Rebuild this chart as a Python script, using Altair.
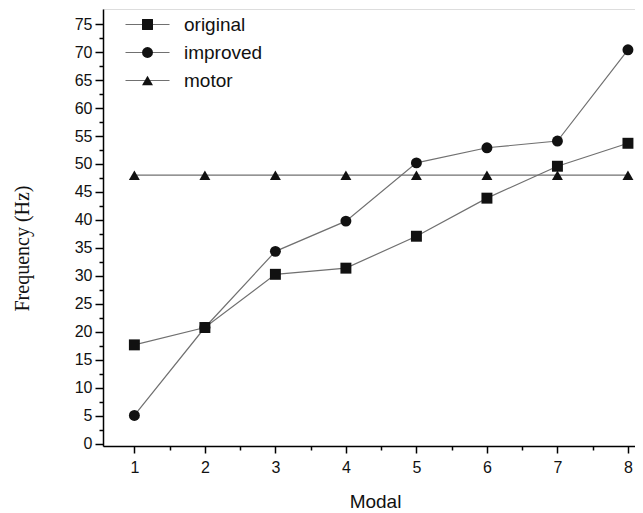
import altair as alt
import pandas as pd

modal = [1, 2, 3, 4, 5, 6, 7, 8]
original = [17.7, 20.8, 30.3, 31.4, 37.1, 43.9, 49.6, 53.7]
improved = [5.1, 20.8, 34.4, 39.8, 50.2, 52.9, 54.1, 70.4]
motor = [48.0, 48.0, 48.0, 48.0, 48.0, 48.0, 48.0, 48.0]
series_names = ["original", "improved", "motor"]
line_keys = ["line-original", "line-improved", "line-motor"]
shapes = ["square", "circle", "triangle-up"]
x_ticks = [1, 1.5, 2, 2.5, 3, 3.5, 4, 4.5, 5, 5.5, 6, 6.5, 7, 7.5, 8]
y_ticks = [i * 2.5 for i in range(31)]

rows = []
for name, key, vals in zip(series_names, line_keys, [original, improved, motor]):
    for m, v in zip(modal, vals):
        rows.append({"series": name, "line_series": key, "modal": m, "value": v})
df = pd.DataFrame(rows)

FONT = "Liberation Sans"
LINE = "#707070"

x_enc = alt.X(
    "modal:Q",
    scale=alt.Scale(domain=[0.555, 8.1], nice=False, zero=False),
    axis=alt.Axis(
        values=x_ticks,
        labelExpr="datum.value % 1 === 0 ? format(datum.value, 'd') : ''",
        tickSize={"condition": {"test": "datum.value % 1 === 0", "value": 7}, "value": 4},
        grid=False, domainColor="black", domainWidth=1.5, tickColor="black", tickWidth=1.5,
        labelFont=FONT, labelFontSize=16, labelColor="#111", labelPadding=6, labelOverlap=False,
        labelFlush=False,
        title="Modal", titleFont=FONT, titleFontSize=19, titleFontWeight="normal", titleColor="#111",
        titleX=272, titleY=55, titleBaseline="middle",
    ),
)
y_enc = alt.Y(
    "value:Q",
    scale=alt.Scale(domain=[-0.36, 77.68], nice=False, zero=False),
    axis=alt.Axis(
        values=y_ticks,
        labelExpr="datum.value % 5 === 0 ? format(datum.value, 'd') : ''",
        tickSize={"condition": {"test": "datum.value % 5 === 0", "value": 8}, "value": 4},
        grid=False, domainColor="black", domainWidth=1.5, tickColor="black", tickWidth=1.5,
        labelFont=FONT, labelFontSize=16, labelColor="#111", labelPadding=3, labelOverlap=False,
        title="Frequency (Hz)", titleFont="Liberation Serif", titleFontSize=20, titleFontWeight="normal",
        titleColor="#111", titleX=-81, titleY=239, titleBaseline="middle", titleAngle=270,
    ),
)

lines = alt.Chart(df).mark_line(strokeWidth=1.2).encode(
    x=x_enc, y=y_enc,
    color=alt.Color(
        "line_series:N",
        scale=alt.Scale(domain=line_keys, range=[LINE, LINE, LINE]),
        legend=alt.Legend(
            title=None, orient="none", legendX=35, legendY=6, padding=0,
            symbolType="M-4,0H4", symbolSize=121, symbolStrokeWidth=1.2,
            labelExpr="''", labelFontSize=19, labelFont=FONT, labelOffset=27, rowPadding=8,
        ),
    ),
    detail="series:N",
)

points = alt.Chart(df).mark_point(filled=True, size=120, opacity=1, color="#111").encode(
    x=x_enc, y=y_enc,
    shape=alt.Shape(
        "series:N",
        scale=alt.Scale(domain=series_names, range=shapes),
        legend=alt.Legend(
            title=None, orient="none", legendX=35, legendY=6, padding=0,
            symbolSize=120, symbolFillColor="#111", symbolStrokeWidth=0, symbolOpacity=1,
            labelFontSize=19, labelFont=FONT, labelColor="#111", labelOffset=27, rowPadding=8,
        ),
    ),
)

chart = alt.layer(lines, points).properties(
    width=532, height=437,
    autosize=alt.AutoSizeParams(type="none"),
    padding={"left": 95, "top": 1, "right": 0, "bottom": 64},
).configure_view(stroke=None).configure(background="white")

chart.save("out.html", embed_options={"renderer": "svg", "actions": False})
